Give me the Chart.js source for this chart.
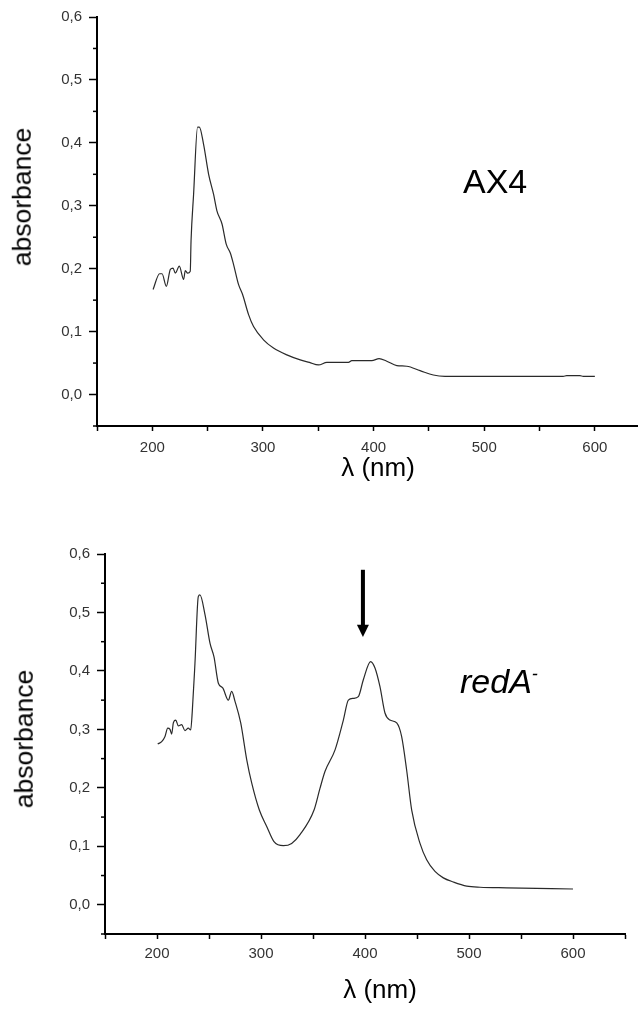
<!DOCTYPE html>
<html>
<head>
<meta charset="utf-8">
<script src="https://cdn.jsdelivr.net/npm/chart.js@4.4.1/dist/chart.umd.min.js"></script>
<style>
  body { margin: 0; background: #fff; }
  #page { position: relative; width: 638px; height: 1009px; overflow: hidden; font-family: "Liberation Sans", Arial, sans-serif; }
  canvas { position: absolute; left: 0; }
  .lbl { position: absolute; white-space: nowrap; line-height: 1; color: #000; }
  .rot { transform: translate(-50%, -50%) rotate(-90deg); }
  .ctr { transform: translate(-50%, -50%); }
</style>
</head>
<body>
<div id="page">
  <canvas id="topChart" width="638" height="470" style="top:0"></canvas>
  <canvas id="bottomChart" width="638" height="509" style="top:500px"></canvas>

  <div class="lbl rot" style="left:22px; top:197px; font-size:26.5px">absorbance</div>
  <div class="lbl ctr" style="left:378px; top:467px; font-size:26px">λ (nm)</div>
  <div class="lbl" style="left:463px; top:164px; font-size:34px">AX4</div>

  <div class="lbl rot" style="left:24px; top:739px; font-size:26.5px">absorbance</div>
  <div class="lbl ctr" style="left:380px; top:989px; font-size:26px">λ (nm)</div>
  <div class="lbl" style="left:460px; top:664px; font-size:34px; font-style:italic">redA<sup style="font-size:18px; vertical-align:13px">-</sup></div>
</div>

<script>
// AX4 spectrum
const ax4Wavelength = [200.7, 206.6, 208.8, 212.7, 216.3, 218.7, 220.8, 224.4, 228.3, 229.8, 231.9, 234.3,
    235, 237.3, 240.9, 242.5, 246.3, 250.9, 255.4, 258.4, 263, 266.8, 270.5, 273.4, 277.9, 281.6, 287,
    291.5, 300.5, 309.5, 321.6, 333.7, 342, 350.2, 357.8, 377.3, 380.3, 398.4, 405, 411.9, 421, 430, 442,
    454, 464.6, 571.4, 574.5, 586.5, 589.5, 600];
const ax4Absorbance = [0.167, 0.192, 0.192, 0.172, 0.199, 0.201, 0.193, 0.204, 0.183, 0.197, 0.193, 0.196,
    0.244, 0.318, 0.425, 0.425, 0.398, 0.350, 0.318, 0.292, 0.271, 0.239, 0.225, 0.207, 0.175, 0.159, 0.127,
    0.108, 0.087, 0.074, 0.063, 0.055, 0.051, 0.047, 0.051, 0.051, 0.054, 0.054, 0.057, 0.053, 0.046, 0.045, 0.038,
    0.031, 0.029, 0.029, 0.030, 0.030, 0.029, 0.029];

// redA- spectrum
const redAWavelength = [200.7, 204.5, 207.7, 210.3, 212.5, 214.1, 215.7, 218, 220.5, 223.7, 226.9, 230.1,
    232.4, 234, 236.5, 239.7, 241.3, 246.2, 251, 254.8, 259, 263.2, 268.6, 271.8, 275, 280.5, 286.3, 291.1,
    298.4, 305.5, 312.5, 321.5, 329.5, 337.5, 351, 356.7, 361.5, 371.2, 379.2, 384, 388.8, 393.6, 398.4,
    405.4, 409.6, 414.4, 419.2, 424, 430.5, 435.2, 440, 444.9, 452.9, 459.3, 467.3, 475.3, 484.9, 497.8,
    510.6, 536.3, 600];
const redAAbsorbance = [0.275, 0.279, 0.288, 0.302, 0.300, 0.292, 0.311, 0.316, 0.306, 0.308, 0.298, 0.302,
    0.299, 0.333, 0.413, 0.527, 0.530, 0.496, 0.447, 0.424, 0.379, 0.371, 0.350, 0.365, 0.348, 0.311, 0.248, 0.208,
    0.162, 0.134, 0.108, 0.101, 0.105, 0.120, 0.162, 0.199, 0.228, 0.265, 0.316, 0.350, 0.353, 0.356, 0.385,
    0.416, 0.405, 0.373, 0.328, 0.316, 0.311, 0.288, 0.231, 0.162, 0.105, 0.077, 0.057, 0.046, 0.039, 0.032,
    0.030, 0.029, 0.027];

// axis ticks (majors get labels, the rest are minor)
const xTickValues = [150, 200, 250, 300, 350, 400, 450, 500, 550, 600, 650];
const xTickLabels = ['200', '300', '400', '500', '600'];
const yTickValues = [-0.05, 0, 0.05, 0.1, 0.15, 0.2, 0.25, 0.3, 0.35, 0.4, 0.45, 0.5, 0.55, 0.6];
const yTickLabels = ['0,0', '0,1', '0,2', '0,3', '0,4', '0,5', '0,6'];

// arrow over the Soret band of redA-
const arrowWavelength = 398;
const arrowTop = 0.573;
const arrowHeadBase = 0.479;
const arrowTip = 0.458;

const tickFont = { family: '"Liberation Sans", Arial, sans-serif', size: 15 };

function isMajorY(v) {
    const i = Math.round(v * 100);
    return i >= 0 && i % 10 === 0;
}

function yLabel(v) {
    if (!isMajorY(v)) return '';
    return yTickLabels[Math.round(v * 10)];
}

function xLabel(v) {
    const s = String(Math.round(v));
    return xTickLabels.includes(s) ? s : '';
}

const minorTicks = {
    id: 'minorTicks',
    afterDraw(chart) {
        const y = chart.scales.y;
        const ctx = chart.ctx;
        ctx.save();
        ctx.strokeStyle = '#000';
        ctx.lineWidth = 1.5;
        y.ticks.forEach(t => {
            if (isMajorY(t.value)) return;
            const py = y.getPixelForValue(t.value);
            ctx.beginPath();
            ctx.moveTo(y.right - 4, py);
            ctx.lineTo(y.right, py);
            ctx.stroke();
        });
        ctx.restore();
    }
};

const arrow = {
    id: 'arrow',
    afterDatasetsDraw(chart) {
        const { x, y } = chart.scales;
        const ctx = chart.ctx;
        const px = x.getPixelForValue(arrowWavelength);
        const top = y.getPixelForValue(arrowTop);
        const base = y.getPixelForValue(arrowHeadBase);
        const tip = y.getPixelForValue(arrowTip);
        ctx.save();
        ctx.fillStyle = '#000';
        ctx.fillRect(px - 2, top, 4, base - top + 1);
        ctx.beginPath();
        ctx.moveTo(px - 6, base);
        ctx.lineTo(px + 6, base);
        ctx.lineTo(px, tip);
        ctx.closePath();
        ctx.fill();
        ctx.restore();
    }
};

function makeChart(id, wl, abs, opt) {
    const ctx = document.getElementById(id).getContext('2d');
    return new Chart(ctx, {
        type: 'line',
        data: {
            datasets: [{
                data: wl.map((w, i) => ({ x: w, y: abs[i] })),
                borderColor: '#2a2a2a',
                borderWidth: 1.2,
                pointRadius: 0,
                cubicInterpolationMode: 'monotone',
                fill: false,
            }],
        },
        options: {
            responsive: false,
            animation: false,
            layout: { padding: { top: opt.top, right: opt.right, left: 0, bottom: 0 } },
            plugins: { legend: { display: false }, tooltip: { enabled: false } },
            scales: {
                x: {
                    type: 'linear',
                    min: 150,
                    max: opt.xMax,
                    afterBuildTicks: s => { s.ticks = xTickValues.filter(v => v <= opt.xMax).map(v => ({ value: v })); },
                    afterFit: s => { s.height = opt.xHeight; },
                    border: { display: true, color: '#000', width: 2 },
                    grid: { drawOnChartArea: false, drawTicks: true, tickLength: 5, tickColor: '#000', tickWidth: 1.5 },
                    ticks: { autoSkip: false, maxRotation: 0, padding: opt.xPad, color: '#333', font: tickFont, callback: xLabel },
                },
                y: {
                    type: 'linear',
                    min: -0.05,
                    max: 0.6,
                    afterBuildTicks: s => { s.ticks = yTickValues.map(v => ({ value: v })); },
                    afterFit: s => { s.width = opt.yWidth; },
                    border: { display: true, color: '#000', width: 2 },
                    grid: {
                        drawOnChartArea: false, drawTicks: true, tickLength: 8, tickWidth: 1.5,
                        tickColor: c => (c.tick && isMajorY(c.tick.value)) ? '#000' : 'rgba(0,0,0,0)',
                    },
                    ticks: { autoSkip: false, padding: 7, color: '#333', font: tickFont, callback: yLabel },
                },
            },
        },
        plugins: opt.plugins,
    });
}

makeChart('topChart', ax4Wavelength, ax4Absorbance,
    { top: 17, right: 0, xMax: 639, xHeight: 44, yWidth: 97, xPad: 8, plugins: [minorTicks] });
makeChart('bottomChart', redAWavelength, redAAbsorbance,
    { top: 54, right: 13, xMax: 650, xHeight: 75, yWidth: 105, xPad: 6, plugins: [minorTicks, arrow] });
</script>
</body>
</html>
